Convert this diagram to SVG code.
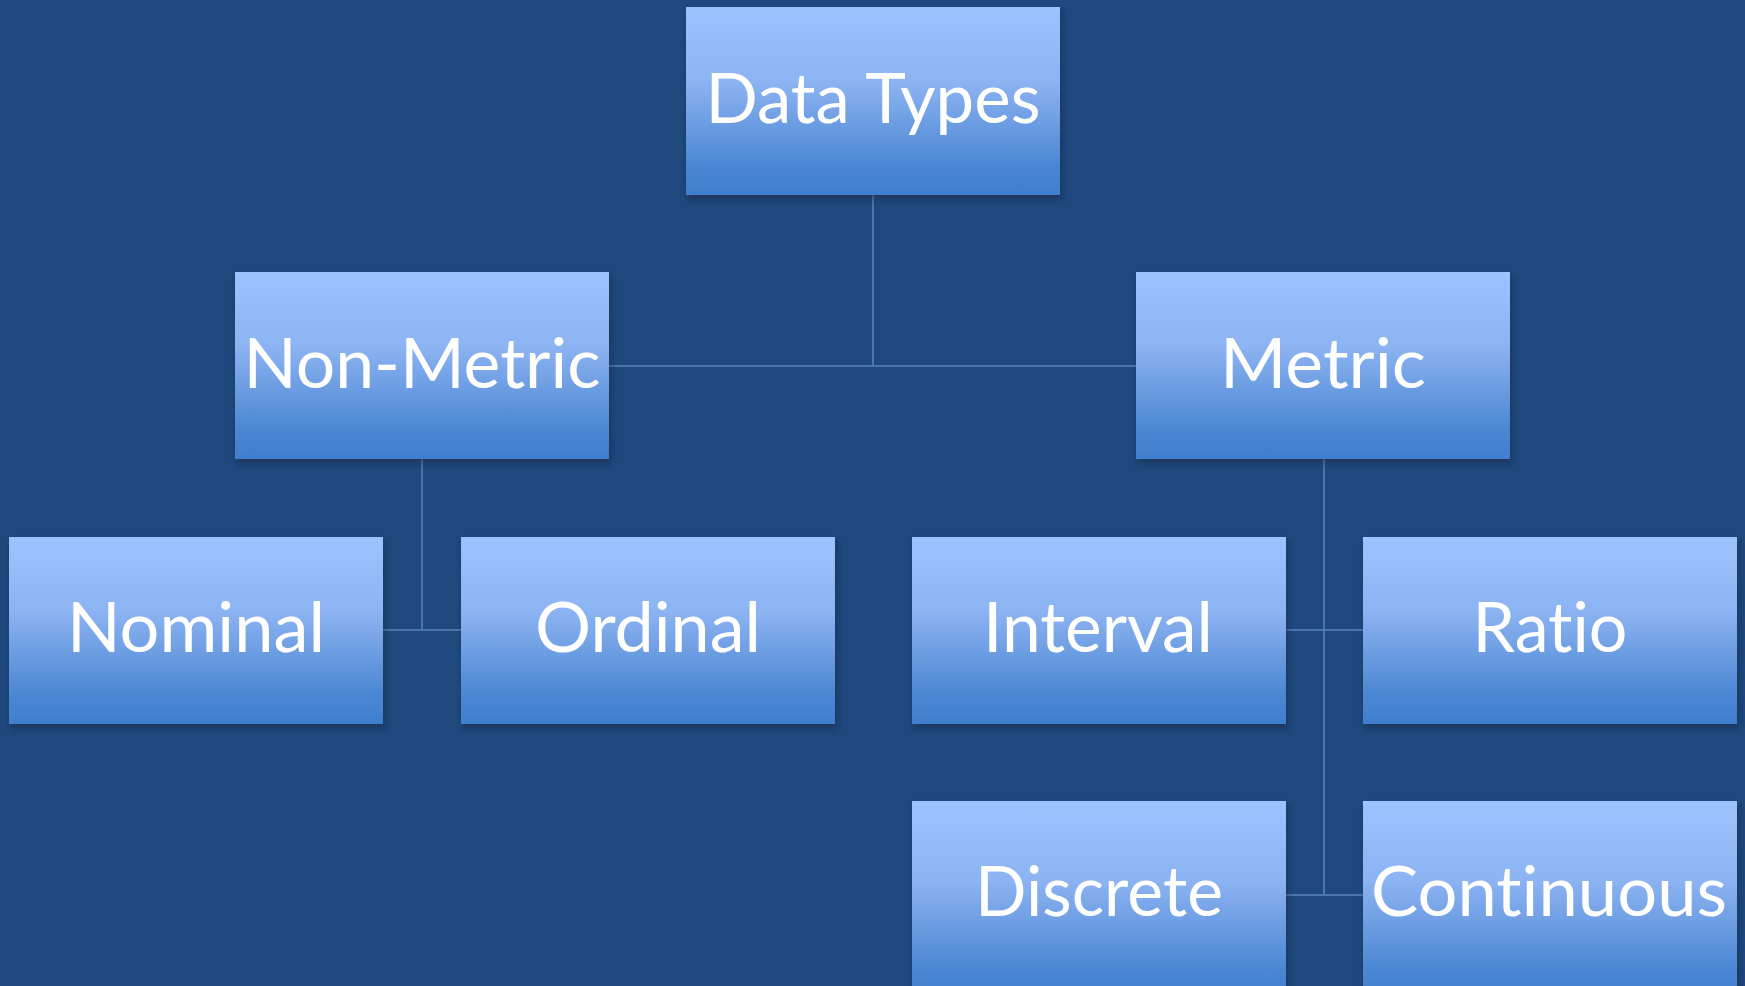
<svg xmlns="http://www.w3.org/2000/svg" width="1745" height="986" viewBox="0 0 1745 986">
<style>
.box{fill:url(#g);filter:url(#sh)}
.lbl{font-family:Lato,"Open Sans",sans-serif;font-size:70px;fill:#ffffff;text-anchor:middle;font-variant-ligatures:none;font-feature-settings:"liga" 0,"dlig" 0}
.con{stroke:#4b76ae;stroke-width:2;fill:none}
</style>
<defs>
<linearGradient id="g" x1="0" y1="0" x2="0" y2="1">
<stop offset="0" stop-color="#9dc3ff"/>
<stop offset="0.4" stop-color="#8cb3f2"/>
<stop offset="0.85" stop-color="#4a86d2"/>
<stop offset="1" stop-color="#3f7fcd"/>
</linearGradient>
<filter id="sh" x="-10%" y="-10%" width="125%" height="130%">
<feDropShadow dx="2" dy="4" stdDeviation="3" flood-color="#0a1e3a" flood-opacity="0.5"/>
</filter>
</defs>
<rect width="1745" height="986" fill="#1f497d"/>
<g id="connectors">
<path class="con" d="M873 195V366M609 366H1136"/>
<path class="con" d="M422 459V630M383 630H461"/>
<path class="con" d="M1324 459V895M1286 630H1363M1286 895H1363"/>
</g>
<g id="data-types"><rect class="box" x="686" y="7" width="374" height="188"/><text class="lbl" x="873" y="123" textLength="335" lengthAdjust="spacingAndGlyphs">Data Types</text></g>
<g id="non-metric"><rect class="box" x="235" y="272" width="374" height="187"/><text class="lbl" x="422" y="388" textLength="357" lengthAdjust="spacingAndGlyphs">Non-Metric</text></g>
<g id="metric"><rect class="box" x="1136" y="272" width="374" height="187"/><text class="lbl" x="1323" y="388" textLength="206" lengthAdjust="spacingAndGlyphs">Metric</text></g>
<g id="nominal"><rect class="box" x="9" y="537" width="374" height="187"/><text class="lbl" x="196" y="652" textLength="258" lengthAdjust="spacingAndGlyphs">Nominal</text></g>
<g id="ordinal"><rect class="box" x="461" y="537" width="374" height="187"/><text class="lbl" x="648" y="652" textLength="226" lengthAdjust="spacingAndGlyphs">Ordinal</text></g>
<g id="interval"><rect class="box" x="912" y="537" width="374" height="187"/><text class="lbl" x="1098" y="652" textLength="230" lengthAdjust="spacingAndGlyphs">Interval</text></g>
<g id="ratio"><rect class="box" x="1363" y="537" width="374" height="187"/><text class="lbl" x="1550" y="652" textLength="155" lengthAdjust="spacingAndGlyphs">Ratio</text></g>
<g id="discrete"><rect class="box" x="912" y="801" width="374" height="200"/><text class="lbl" x="1099" y="916" textLength="248" lengthAdjust="spacingAndGlyphs">Discrete</text></g>
<g id="continuous"><rect class="box" x="1363" y="801" width="374" height="200"/><text class="lbl" x="1549" y="916" textLength="356" lengthAdjust="spacingAndGlyphs">Continuous</text></g>
</svg>
